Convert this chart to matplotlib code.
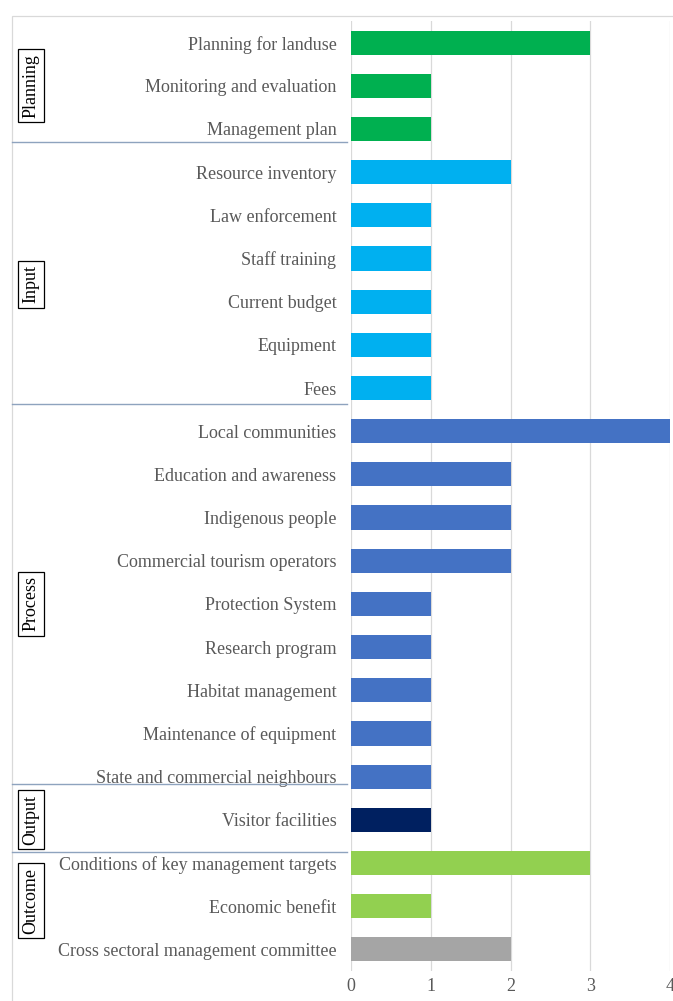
import matplotlib
matplotlib.use('Agg')
import matplotlib.pyplot as plt
from matplotlib.patches import Rectangle
from matplotlib.lines import Line2D
import matplotlib.transforms as mtransforms

plt.rcParams['font.family'] = ['Liberation Serif', 'DejaVu Serif']

# data
categories = ['Planning for landuse', 'Monitoring and evaluation', 'Management plan',
              'Resource inventory', 'Law enforcement', 'Staff training', 'Current budget',
              'Equipment', 'Fees',
              'Local communities', 'Education and awareness', 'Indigenous people',
              'Commercial tourism operators', 'Protection System', 'Research program',
              'Habitat management', 'Maintenance of equipment', 'State and commercial neighbours',
              'Visitor facilities',
              'Conditions of key management targets', 'Economic benefit',
              'Cross sectoral management committee']
values = [3, 1, 1, 2, 1, 1, 1, 1, 1, 4, 2, 2, 2, 1, 1, 1, 1, 1, 1, 3, 1, 2]
groups = ['Planning'] * 3 + ['Input'] * 6 + ['Process'] * 9 + ['Output'] + ['Outcome'] * 2 + ['Other']
group_colors = {'Planning': '#00B050', 'Input': '#00B0F0', 'Process': '#4472C4',
                'Output': '#002060', 'Outcome': '#92D050', 'Other': '#A5A5A5'}
group_labels = ['Planning', 'Input', 'Process', 'Output', 'Outcome']
group_label_pos = [1.0, 5.6, 13.0, 18.0, 19.87]
separators = [2.3, 8.37, 17.18, 18.75]
xticks = [0, 1, 2, 3, 4]

fig = plt.figure(figsize=(6.73, 10.01), dpi=100)
ax = fig.add_axes([351 / 673, 0.030, 319 / 673, 0.949])

ypos = list(range(len(categories)))
colors = [group_colors[g] for g in groups]
ax.barh(ypos, values, height=0.56, color=colors, zorder=3)
ax.set_ylim(len(categories) - 0.5, -0.5)
ax.set_xlim(0, 4)

ax.set_yticks(ypos)
ax.set_yticklabels(categories, fontsize=13, color='#595959')
ax.set_xticks(xticks)
ax.set_xticklabels([str(t) for t in xticks], fontsize=13, color='#595959')
ax.tick_params(axis='both', length=0)
ax.tick_params(axis='y', pad=10.5)
ax.tick_params(axis='x', pad=5)
for s in ax.spines.values():
    s.set_visible(False)
ax.grid(axis='x', color='#D9D9D9', linewidth=0.9, zorder=0)

# outer chart border
fig.patches.append(Rectangle((12 / 673, -0.02), 1.0, 1 - 16 / 1001 + 0.02,
                             transform=fig.transFigure, fill=False,
                             edgecolor='#D9D9D9', linewidth=0.9))

# group separators and labels
trans = mtransforms.blended_transform_factory(fig.transFigure, ax.transData)
for yy in separators:
    fig.lines.append(Line2D([12 / 673, 347 / 673], [yy, yy], transform=trans,
                            color='#8EA3BE', linewidth=1.0))

for lab, yy in zip(group_labels, group_label_pos):
    fig.text(31 / 673, yy, lab, transform=trans, rotation=90, ha='center', va='center',
             fontsize=13, color='black',
             bbox=dict(boxstyle='square,pad=0.25', facecolor='white', edgecolor='black', linewidth=0.9))

fig.savefig('out.png', dpi=100)
